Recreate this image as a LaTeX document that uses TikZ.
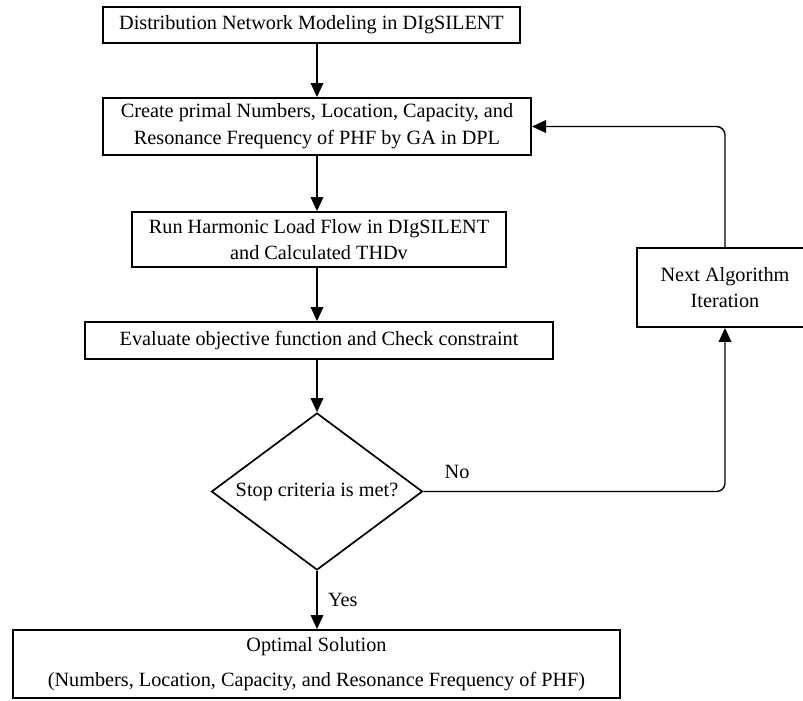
\documentclass[tikz,border=0pt]{standalone}
\usepackage{fontspec}
\setmainfont{Liberation Serif}
\usetikzlibrary{shapes.geometric,arrows.meta}
\tikzset{
  block/.style={draw,line width=1.3pt,align=center,inner sep=0pt,font=\fontsize{14.4}{19}\selectfont},
  decision/.style={draw,diamond,line width=1.2pt,inner sep=0pt,aspect=1.34,font=\fontsize{14.4}{19}\selectfont},
  flow/.style={line width=1pt,-{Triangle[length=10pt,width=9pt]}},
  tag/.style={font=\fontsize{14.4}{19}\selectfont,fill=white}
}
\begin{document}
\begin{tikzpicture}[x=0.025cm,y=-0.025cm]
\useasboundingbox (0,0) rectangle (803,700);
% boxes
\node[block,minimum width=10.425cm,minimum height=0.9cm] (model) at (311.5,25) {Distribution Network Modeling in DIgSILENT};
\node[block,minimum width=10.7cm,minimum height=1.425cm] (create) at (317,126.5) {Create primal Numbers, Location, Capacity, and\\Resonance Frequency of PHF by GA in DPL};
\node[block,minimum width=9.35cm,minimum height=1.375cm] (run) at (319,239.5) {Run Harmonic Load Flow in DIgSILENT\\and Calculated THDv};
\node[block,minimum width=11.7cm,minimum height=0.925cm] (eval) at (319,340.5) {Evaluate objective function and Check constraint};
\node[decision,minimum width=5.275cm,minimum height=3.925cm] (stop) at (317,491.5) {Stop criteria is met?};
\node[block,minimum width=4.4cm,minimum height=1.975cm] (next) at (725,287.5) {Next Algorithm\\Iteration};
\node[block,minimum width=15.175cm,minimum height=1.7cm] (sol) at (316.5,664) {Optimal Solution\\[6pt](Numbers, Location, Capacity, and Resonance Frequency of PHF)};
% arrows
\draw[flow] (model.south -| stop) -- (create.north -| stop);
\draw[flow] (create.south -| stop) -- (run.north -| stop);
\draw[flow] (run.south -| stop) -- (eval.north -| stop);
\draw[flow] (eval.south -| stop) -- (stop.north);
\draw[flow] (stop.south) -- node[tag,right=4pt] {Yes} (sol.north -| stop);
\draw[flow,rounded corners=6pt] (stop.east) -| (next.south);
\draw[flow,rounded corners=6pt] (next.north) |- (create.east);
\node[tag] (no) at (457,472) {No};
\end{tikzpicture}
\end{document}
